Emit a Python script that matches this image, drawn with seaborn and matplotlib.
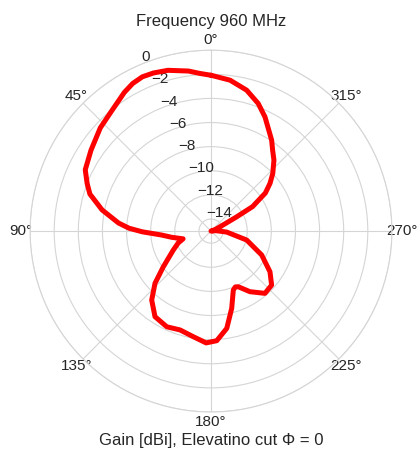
import numpy as np
import pandas as pd
import matplotlib
matplotlib.use("Agg")
import matplotlib.pyplot as plt
import seaborn as sns

# Angle (degrees, counter-clockwise from north) and gain (dBi)
angle_deg = [0, 4, 8, 15, 20, 24, 28, 32, 40, 47, 56, 64, 69, 73, 79, 85, 88, 90.6,
             94.6, 99, 105.5, 110, 116.7, 126.8, 133, 139.3, 146.8, 155.2, 162.6,
             170.5, 177.5, 183, 189.2, 195, 200.7, 203.5, 206.1, 212.7, 220.9, 228.3,
             235.4, 244.7, 255.9, 266.4, 275, 283, 291, 296, 299, 300.5, 305, 309,
             313, 318.4, 322.7, 326.3, 329, 334.7, 339.7, 345.8, 352.8, 360]
gain_dbi = [-2.08, -1.9, -1.6, -1.2, -1.05, -1.0, -1.15, -1.44, -2.1, -2.45, -3.0,
            -3.4, -4.0, -4.5, -5.8, -7.3, -8.2, -9.3, -10.9, -11.7, -12.6, -12.1,
            -11.5, -10.06, -8.65, -7.46, -6.52, -6.26, -6.41, -6.12, -5.72, -5.9,
            -6.83, -8.37, -9.77, -9.95, -9.86, -9.03, -8.17, -8.27, -9.06, -10.35,
            -11.95, -13.7, -14.6, -15.0, -14.6, -14.1, -12.6, -11.0, -9.5, -8.7,
            -8.0, -7.14, -6.57, -5.94, -5.55, -4.53, -3.72, -2.95, -2.39, -2.08]
radial_ticks = [0, -2, -4, -6, -8, -10, -12, -14]
title_text = "Frequency 960 MHz"
xlabel_text = "Gain [dBi], Elevatino cut \u03a6 = 0"

sns.set_theme(style="whitegrid")
plt.rcParams['font.family'] = ['Liberation Sans', 'DejaVu Sans']

df = pd.DataFrame({"theta": np.deg2rad(angle_deg), "gain": gain_dbi})

fig = plt.figure(figsize=(4.19, 4.54), dpi=100)
ax = fig.add_axes([0.0716, 0.0925, 0.864, 0.797], projection="polar")
ax.set_theta_zero_location("N")
ax.set_theta_direction(1)

sns.lineplot(data=df, x="theta", y="gain", sort=False, color="red",
             linewidth=3.6, ax=ax, estimator=None)

ax.set_ylim(-15, 0)
ax.set_yticks(radial_ticks)
ax.set_yticklabels([f"\u2212{abs(t)}" if t < 0 else "0" for t in radial_ticks])
ax.set_rlabel_position(22.5)
ax.set_xticks(np.deg2rad(np.arange(0, 360, 45)))
ax.tick_params(axis="y", labelsize=11, colors="#262626", pad=2)
ax.tick_params(axis="x", labelsize=11, colors="#262626", pad=-6)
ax.set_xlabel(xlabel_text, fontsize=12, color="#262626", labelpad=3)
ax.set_ylabel("")
ax.set_title(title_text, fontsize=12, color="#262626", y=1.066, pad=0)
ax.grid(True, color="#d5d5d5", linewidth=0.8)
ax.spines["polar"].set_color("#d5d5d5")
ax.spines["polar"].set_linewidth(0.8)

fig.savefig("out.png", dpi=100)
